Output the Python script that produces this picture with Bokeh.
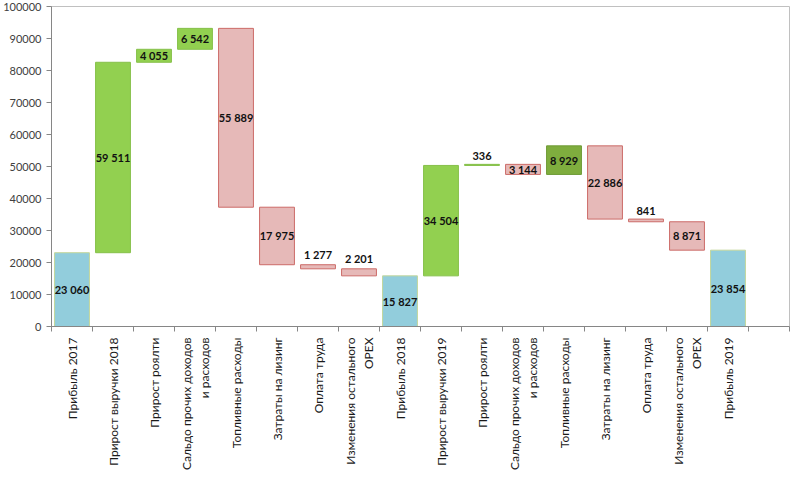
import math
from bokeh.plotting import figure
from bokeh.models import ColumnDataSource, Range1d, FixedTicker, LinearAxis, BasicTickFormatter
from bokeh.core.properties import value
from bokeh.embed import file_html
from bokeh.resources import INLINE

# ---- data ----
categories = [
    "Прибыль 2017", "Прирост выручки 2018", "Прирост роялти",
    "Сальдо прочих доходов\nи расходов", "Топливные расходы", "Затраты на лизинг",
    "Оплата труда", "Изменения остального\nOPEX", "Прибыль 2018",
    "Прирост выручки 2019", "Прирост роялти", "Сальдо прочих доходов\nи расходов",
    "Топливные расходы", "Затраты на лизинг", "Оплата труда",
    "Изменения остального\nOPEX", "Прибыль 2019",
]
values = [23060, 59511, 4055, 6542, -55889, -17975, -1277, -2201, 15827,
          34504, 336, -3144, 8929, -22886, -841, -8871, 23854]
is_total = [True, False, False, False, False, False, False, False, True,
            False, False, False, False, False, False, False, True]
n_slots = 18
y_ticks = list(range(0, 100001, 10000))

# ---- build waterfall geometry from data ----
x, bottom, top, fill, line, labels, ly, base, yoff = [], [], [], [], [], [], [], [], []
running = 0
for i, (v, tot) in enumerate(zip(values, is_total)):
    if tot:
        b, t = 0, v
        running = v
        f, l = "#92CDDC", "#C3D69B"
    else:
        b, t = running, running + v
        running = running + v
        if v >= 0:
            f, l = ("#7FAD3E", "#6E9A35") if i == 12 else ("#92D050", "#86C04A")
        else:
            f, l = "#E6B9B8", "#CC6B68"
    lo, hi = min(b, t), max(b, t)
    x.append(i); bottom.append(lo); top.append(hi); fill.append(f); line.append(l)
    labels.append(f"{abs(v):,}".replace(",", " "))
    if abs(v) < 3000:
        ly.append(hi); base.append("bottom"); yoff.append(-4)
    else:
        ly.append((lo + hi) / 2); base.append("middle"); yoff.append(0)

src = ColumnDataSource(dict(x=x, bottom=bottom, top=top, fill=fill, line=line))
lsrc = ColumnDataSource(dict(x=x, y=ly, text=labels, base=base, yoff=yoff))

p = figure(width=791, height=476, output_backend="svg", toolbar_location=None,
           x_range=Range1d(-0.5, n_slots - 0.5), y_range=Range1d(0, 100000),
           x_axis_location=None, y_axis_location=None,
           min_border_left=39, min_border_right=2, min_border_top=6, min_border_bottom=150)
p.grid.visible = False
p.outline_line_color = "#C0C0C0"
p.background_fill_color = "white"
p.border_fill_color = "white"

p.vbar(x="x", bottom="bottom", top="top", width=0.85, source=src,
       fill_color="fill", line_color="line", line_width=1)

p.text(x="x", y="y", text="text", source=lsrc, text_align="center",
       text_baseline="base", y_offset="yoff",
       text_font=value("Lato"), text_font_style="bold", text_font_size="11px",
       text_color="#111111")

yaxis = LinearAxis(ticker=FixedTicker(ticks=y_ticks, minor_ticks=[]),
                   formatter=BasicTickFormatter(use_scientific=False))
yaxis.axis_line_color = "#868686"
yaxis.major_tick_line_color = "#868686"
yaxis.major_tick_out = 5
yaxis.major_tick_in = 0
yaxis.major_label_standoff = 5
yaxis.major_label_text_font = "Lato"
yaxis.major_label_text_font_size = "11px"
yaxis.major_label_text_color = "#404040"
p.add_layout(yaxis, "left")

xaxis = LinearAxis(ticker=FixedTicker(ticks=list(range(len(categories))),
                                      minor_ticks=[i - 0.5 for i in range(n_slots + 1)]))
xaxis.major_label_overrides = {i: c for i, c in enumerate(categories)}
xaxis.axis_line_color = "#868686"
xaxis.major_tick_line_color = None
xaxis.major_tick_out = 0
xaxis.major_tick_in = 0
xaxis.minor_tick_line_color = "#868686"
xaxis.minor_tick_out = 5
xaxis.minor_tick_in = 0
xaxis.major_label_orientation = math.pi / 2
xaxis.major_label_standoff = 6
xaxis.major_label_text_font = "Lato"
xaxis.major_label_text_font_size = "12px"
xaxis.major_label_text_color = "#1a1a1a"
p.add_layout(xaxis, "below")

open("out.html", "w").write(file_html(p, INLINE))
